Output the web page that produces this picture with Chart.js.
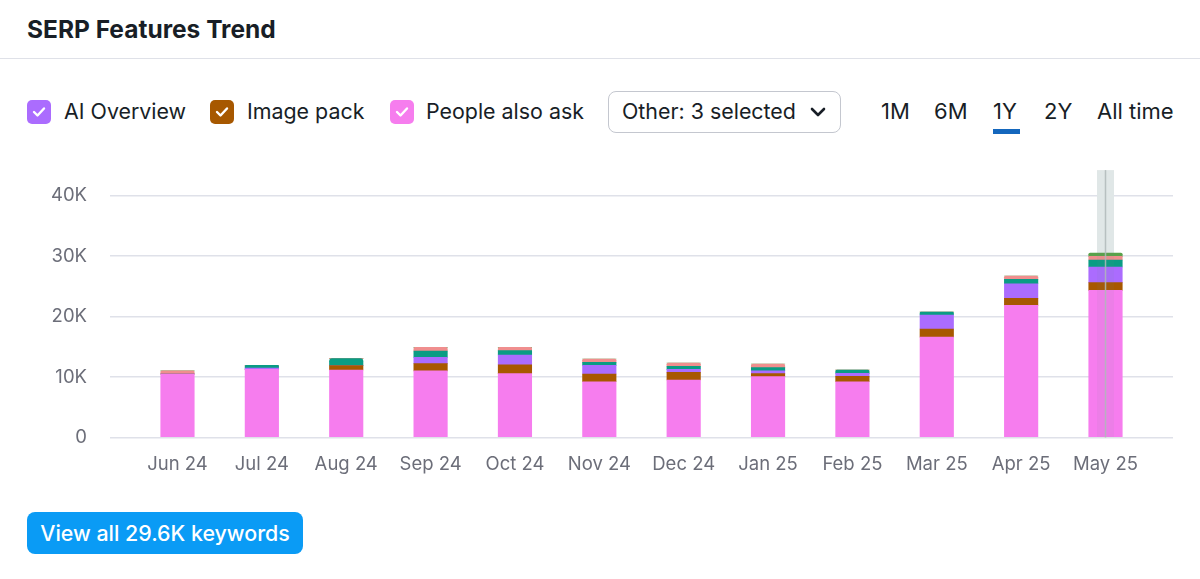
<!DOCTYPE html>
<html>
<head>
<meta charset="utf-8">
<title>SERP Features Trend</title>
<script src="https://cdn.jsdelivr.net/npm/chart.js@4"></script>
<style>
html,body{margin:0;padding:0;background:#fff;width:1200px;height:579px;overflow:hidden;font-family:Inter,"Noto Sans",sans-serif;color:#181e26}
.abs{position:absolute;white-space:nowrap}
h1{margin:0;left:27px;top:15px;font-size:24.5px;line-height:29px;font-weight:700}
.rule{left:0;top:58px;width:1200px;height:1px;background:#dfe1e8}
.cb{width:24px;height:24px;border-radius:5px;top:100px;display:flex;align-items:center;justify-content:center}
.lb{top:97px;font-size:21.4px;line-height:28px}
.sel{left:608px;top:91px;width:231px;height:40px;border:1px solid #c4c7cf;border-radius:8px;background:#fff}
.rng{top:97px;font-size:22px;line-height:28px}
.ul{left:993px;top:129px;width:27px;height:5px;background:#1467bd}
.btn{left:27px;top:512px;width:276px;height:42px;border-radius:8px;background:#0a9bf5;color:#fff;font-size:21.4px;font-weight:500;line-height:42px;text-align:center}
#wrap{position:absolute;left:0;top:136px;width:1200px;height:364px}
</style>
</head>
<body>
<h1 class="abs">SERP Features Trend</h1>
<div class="abs rule"></div>

<div class="abs cb" style="left:27px;background:#ab6cfe"><svg width="14" height="12" viewBox="0 0 14 12"><path d="M2 6l3.5 3.5L12 2.5" fill="none" stroke="#fff" stroke-width="2.4" stroke-linecap="round" stroke-linejoin="round"/></svg></div>
<div class="abs lb" style="left:64px">AI Overview</div>
<div class="abs cb" style="left:210px;background:#a75800"><svg width="14" height="12" viewBox="0 0 14 12"><path d="M2 6l3.5 3.5L12 2.5" fill="none" stroke="#fff" stroke-width="2.4" stroke-linecap="round" stroke-linejoin="round"/></svg></div>
<div class="abs lb" style="left:247px">Image pack</div>
<div class="abs cb" style="left:390px;background:#f67dee"><svg width="14" height="12" viewBox="0 0 14 12"><path d="M2 6l3.5 3.5L12 2.5" fill="none" stroke="#fff" stroke-width="2.4" stroke-linecap="round" stroke-linejoin="round"/></svg></div>
<div class="abs lb" style="left:426px">People also ask</div>

<div class="abs sel"></div>
<div class="abs lb" style="left:622px">Other: 3 selected</div>
<svg class="abs" style="left:810px;top:107px" width="16" height="11" viewBox="0 0 16 11"><path d="M2 2l6 6 6-6" fill="none" stroke="#181e26" stroke-width="2.6" stroke-linecap="round" stroke-linejoin="round"/></svg>

<div class="abs rng" style="left:881px">1M</div>
<div class="abs rng" style="left:934px">6M</div>
<div class="abs rng" style="left:993px">1Y</div>
<div class="abs ul"></div>
<div class="abs rng" style="left:1044px">2Y</div>
<div class="abs rng" style="left:1097px">All time</div>

<div id="wrap"><canvas id="c" width="1200" height="364" style="width:1200px;height:364px;display:block"></canvas></div>
<div class="abs btn">View all 29.6K keywords</div>

<script>
const categories = ["Jun 24","Jul 24","Aug 24","Sep 24","Oct 24","Nov 24","Dec 24","Jan 25","Feb 25","Mar 25","Apr 25","May 25"];
const peopleAlsoAsk = [10500,11270,11160,11000,10550,9220,9500,10050,9220,16600,21850,24330];
const imagePack     = [0,0,710,1200,1480,1280,1270,500,890,1330,1150,1270];
const aiOverview    = [0,200,0,1050,1610,1430,500,490,500,2320,2420,2580];
const otherTeal     = [0,460,1160,1050,710,500,500,500,550,490,730,1160];
const otherSalmon   = [500,0,0,600,550,540,540,610,0,0,540,610];
const otherGreen    = [0,0,0,0,0,0,0,0,0,0,0,550];
const yTicks = [0,10000,20000,30000,40000];
const highlightedIndex = 11;

const stack = [
  {label:"People also ask", values:peopleAlsoAsk, color:"#f67dee"},
  {label:"Image pack", values:imagePack, color:"#a75800"},
  {label:"AI Overview", values:aiOverview, color:"#ab6cfe"},
  {label:"Other: teal", values:otherTeal, color:"#0a9c84"},
  {label:"Other: salmon", values:otherSalmon, color:"#f08e8e"},
  {label:"Other: green", values:otherGreen, color:"#59a14a"}
];
function isTop(ds,i){
  for(let k=stack.length-1;k>=0;k--){ if(stack[k].values[i]>0) return k===ds; }
  return false;
}
const highlight = {
  id:"highlight",
  beforeDatasetsDraw(chart){
    const {ctx,chartArea:a,scales:{x}} = chart;
    const px = x.getPixelForValue(highlightedIndex);
    ctx.save();
    ctx.fillStyle = "#e9eeee";
    ctx.fillRect(px-8.5,a.top,17,a.bottom-a.top);
    ctx.restore();
  },
  afterDatasetsDraw(chart){
    const {ctx,chartArea:a,scales:{x}} = chart;
    const px = x.getPixelForValue(highlightedIndex);
    ctx.save();
    ctx.fillStyle = "rgba(120,140,135,0.07)";
    ctx.fillRect(px-8.5,a.top,17,a.bottom-a.top);
    ctx.fillStyle = "rgba(175,185,185,0.85)";
    ctx.fillRect(px-0.75,a.top,1.5,a.bottom-a.top);
    ctx.restore();
  }
};
new Chart(document.getElementById("c"),{
  type:"bar",
  data:{
    datasets:stack.map((s,d)=>({
      label:s.label,
      data:s.values.map((v,i)=>({x:i,y:v})),
      backgroundColor:s.color,
      borderWidth:0,
      borderSkipped:false,
      barThickness:33.5,
      stack:"a",
      borderRadius:ctx=>isTop(d,ctx.dataIndex)?{topLeft:3,topRight:3,bottomLeft:0,bottomRight:0}:0
    }))
  },
  options:{
    responsive:false,
    animation:false,
    events:[],
    layout:{padding:{left:0,right:27,top:0,bottom:0}},
    plugins:{legend:{display:false},tooltip:{enabled:false}},
    scales:{
      x:{
        type:"linear",stacked:true,min:-0.8,max:11.8,offset:false,
        grid:{display:false},border:{display:false},
        afterFit(s){s.height=62.5;},
        ticks:{
          stepSize:1,includeBounds:false,autoSkip:false,maxRotation:0,padding:8,
          color:"#6c6e79",font:{family:"Inter",size:18.5},
          callback:v=>categories[v]
        }
      },
      y:{
        stacked:true,min:0,max:44200,
        afterFit(s){s.width=110;},
        afterBuildTicks(s){s.ticks=yTicks.map(v=>({value:v}));},
        border:{display:false},
        grid:{color:"#dfe1e9",lineWidth:1.5,drawTicks:false},
        ticks:{
          padding:23,color:"#6c6e79",font:{family:"Inter",size:18.5},
          callback:v=>v===0?"0":(v/1000)+"K"
        }
      }
    }
  },
  plugins:[highlight]
});
</script>
</body>
</html>
